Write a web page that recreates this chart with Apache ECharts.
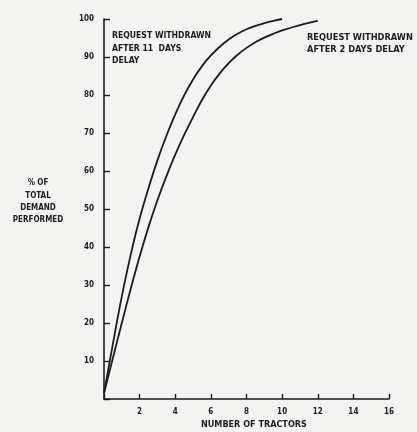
<!DOCTYPE html>
<html><head><meta charset="utf-8">
<script src="https://cdn.jsdelivr.net/npm/echarts@6/dist/echarts.min.js"></script>
<style>html,body{margin:0;padding:0;background:#f3f3f2;}#c{width:417px;height:432px;}</style>
</head><body><div id="c"></div>
<script>
// Curve: request withdrawn after 11 days delay (number of tractors -> % of demand)
var tractors11 = [0, 0.5, 1, 1.5, 2, 2.5, 3, 3.5, 4, 4.5, 5, 5.5, 6, 6.5, 7, 7.5, 8, 8.5, 9, 9.5, 10];
var pct11 = [1.5, 14.5, 27, 38, 47.5, 55.5, 62.8, 69.2, 74.9, 79.9, 84.1, 87.6, 90.4, 92.7, 94.6, 96.1, 97.3, 98.2, 98.9, 99.5, 100];
// Curve: request withdrawn after 2 days delay
var tractors2 = [0, 0.5, 1, 1.5, 2, 2.5, 3, 3.5, 4, 4.5, 5, 5.5, 6, 6.5, 7, 7.5, 8, 8.5, 9, 9.5, 10, 10.5, 11, 11.5, 12];
var pct2 = [1.5, 10.8, 20, 29, 37.5, 45.3, 52.3, 58.6, 64.3, 69.5, 74.2, 78.7, 82.5, 85.7, 88.4, 90.6, 92.4, 93.9, 95.1, 96.1, 97.0, 97.7, 98.4, 99.0, 99.5];
var xTicks = [2, 4, 6, 8, 10, 12, 14, 16];
var yTicks = [10, 20, 30, 40, 50, 60, 70, 80, 90, 100];

function pairs(xs, ys) { return xs.map(function (x, i) { return [x, ys[i]]; }); }

var ink = '#1c1c1c';
var font = '"DejaVu Sans Condensed", "Liberation Sans Narrow", "DejaVu Sans", sans-serif';
var chart = echarts.init(document.getElementById('c'), null, {renderer: 'canvas'});
chart.setOption({
  backgroundColor: '#f3f3f2',
  animation: false,
  grid: {left: 104, right: 28, top: 19, bottom: 33},
  xAxis: {
    type: 'value', min: 0, max: 16, interval: 2,
    axisLine: {lineStyle: {color: ink, width: 1.6}},
    axisTick: {inside: true, length: 5, lineStyle: {color: ink, width: 1.4}},
    splitLine: {show: false},
    axisLabel: {color: ink, fontFamily: font, fontSize: 8, fontWeight: 'bold', margin: 9,
      formatter: function (v) { return xTicks.indexOf(v) >= 0 ? String(v) : ''; }}
  },
  yAxis: {
    type: 'value', min: 0, max: 100, interval: 10,
    axisLine: {show: true, lineStyle: {color: ink, width: 1.6}},
    axisTick: {show: true, inside: true, length: 6, lineStyle: {color: ink, width: 1.4}},
    splitLine: {show: false},
    axisLabel: {color: ink, fontFamily: font, fontSize: 8, fontWeight: 'bold', margin: 10,
      formatter: function (v) { return yTicks.indexOf(v) >= 0 ? String(v) : ''; }}
  },
  series: [
    {type: 'line', data: pairs(tractors11, pct11), smooth: 0.4, symbol: 'none',
     lineStyle: {color: ink, width: 1.8}},
    {type: 'line', data: pairs(tractors2, pct2), smooth: 0.4, symbol: 'none',
     lineStyle: {color: ink, width: 1.8}}
  ],
  graphic: [
    {type: 'text', left: 112, top: 30, style: {text: 'REQUEST WITHDRAWN\nAFTER 11  DAYS\nDELAY',
      font: 'bold 8.6px ' + font, fill: ink, lineHeight: 12.5}},
    {type: 'text', left: 307, top: 32, style: {text: 'REQUEST WITHDRAWN\nAFTER 2 DAYS DELAY',
      font: 'bold 9.2px ' + font, fill: ink, lineHeight: 11.5}},
    {type: 'text', x: 38, y: 177, style: {text: '% OF\nTOTAL\nDEMAND\nPERFORMED',
      font: 'bold 8px ' + font, fill: ink, lineHeight: 12.3, align: 'center'}},
    {type: 'text', left: 201, top: 420, style: {text: 'NUMBER OF TRACTORS',
      font: 'bold 9px ' + font, fill: ink}}
  ]
});
</script></body></html>
